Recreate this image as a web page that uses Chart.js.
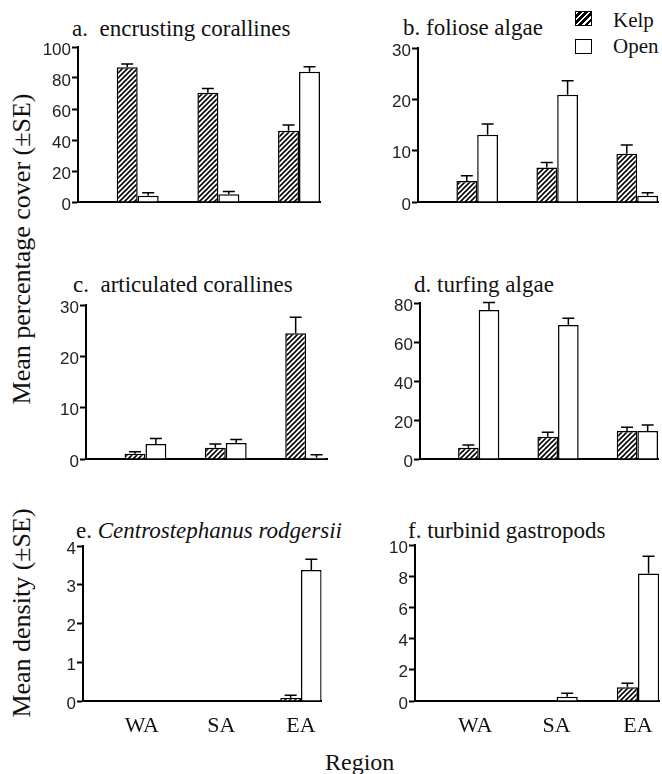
<!DOCTYPE html>
<html>
<head>
<meta charset="utf-8">
<script src="https://cdn.jsdelivr.net/npm/chart.js@4.4.1/dist/chart.umd.min.js"></script>
<style>
  body { margin: 0; background: #fff; }
  #fig { position: relative; width: 662px; height: 774px; overflow: hidden;
         font-family: "Liberation Serif", "Times New Roman", serif; color: #111; }
  #fig canvas { position: absolute; }
  .t { position: absolute; font-size: 23px; line-height: 22px; white-space: pre; }
  .yt { position: absolute; font-size: 26px; line-height: 26px; white-space: nowrap;
        transform: translate(-50%, -50%) rotate(-90deg); }
  .sw { position: absolute; width: 15px; height: 13px; border: 1.5px solid #000; background: #fff; }
  .sw.k { background: repeating-linear-gradient(135deg, #fff 0, #fff 2px, #000 2px, #000 4.3px); }
  .lg { position: absolute; font-size: 21px; line-height: 20px; }
</style>
</head>
<body>
<div id="fig">
  <div class="t" style="left:72px;top:18px">a.  encrusting corallines</div>
  <div class="t" style="left:403px;top:17px">b. foliose algae</div>
  <div class="t" style="left:73px;top:274px">c.  articulated corallines</div>
  <div class="t" style="left:414px;top:274px">d. turfing algae</div>
  <div class="t" style="left:76px;top:520px">e. <i>Centrostephanus rodgersii</i></div>
  <div class="t" style="left:408px;top:520px">f. turbinid gastropods</div>

  <div class="yt" style="left:22px;top:249px">Mean percentage cover (±SE)</div>
  <div class="yt" style="left:22px;top:613px">Mean density (±SE)</div>
  <div class="t" style="left:325px;top:750px;font-size:24px;line-height:24px">Region</div>

  <div class="sw k" style="left:575px;top:11px"></div>
  <div class="lg" style="left:613px;top:10px">Kelp</div>
  <div class="sw" style="left:575px;top:39px"></div>
  <div class="lg" style="left:613px;top:36px">Open</div>
</div>
<script>
const regions = ["WA", "SA", "EA"];

// a. encrusting corallines (% cover)
const encrustingKelp = [87, 70.5, 46];
const encrustingKelpSE = [2, 2.8, 3.7];
const encrustingOpen = [4, 5, 84];
const encrustingOpenSE = [2, 1.7, 3.3];
const encrustingTicks = [0, 20, 40, 60, 80, 100];

// b. foliose algae
const folioseKelp = [4.1, 6.7, 9.4];
const folioseKelpSE = [1.0, 1.0, 1.7];
const folioseOpen = [13.1, 20.9, 1.2];
const folioseOpenSE = [2.1, 2.7, 0.6];
const folioseTicks = [0, 10, 20, 30];

// c. articulated corallines
const articulatedKelp = [1.0, 2.2, 24.5];
const articulatedKelpSE = [0.4, 0.7, 3.1];
const articulatedOpen = [2.9, 3.1, 0.25];
const articulatedOpenSE = [1.1, 0.7, 0.6];
const articulatedTicks = [0, 10, 20, 30];

// d. turfing algae
const turfingKelp = [5.8, 11.4, 14.4];
const turfingKelpSE = [1.4, 2.3, 1.9];
const turfingOpen = [76.4, 68.7, 14.4];
const turfingOpenSE = [3.8, 3.5, 3.0];
const turfingTicks = [0, 20, 40, 60, 80];

// e. Centrostephanus rodgersii (density)
const centroKelp = [0, 0, 0.08];
const centroKelpSE = [0, 0, 0.07];
const centroOpen = [0, 0, 3.38];
const centroOpenSE = [0, 0, 0.28];
const centroTicks = [0, 1, 2, 3, 4];

// f. turbinid gastropods
const turbinidKelp = [0, 0, 0.88];
const turbinidKelpSE = [0, 0, 0.25];
const turbinidOpen = [0, 0.28, 8.18];
const turbinidOpenSE = [0, 0.22, 1.1];
const turbinidTicks = [0, 2, 4, 6, 8, 10];

const fig = document.getElementById("fig");

function hatch() {
  const c = document.createElement("canvas");
  c.width = c.height = 5;
  const g = c.getContext("2d");
  g.fillStyle = "#fff";
  g.fillRect(0, 0, 5, 5);
  g.strokeStyle = "#000";
  g.lineWidth = 1.6;
  g.beginPath();
  g.moveTo(0, 5); g.lineTo(5, 0);
  g.moveTo(-1, 1); g.lineTo(1, -1);
  g.moveTo(4, 6); g.lineTo(6, 4);
  g.stroke();
  return g.createPattern(c, "repeat");
}

// upward-only error bars with a cap
const errorBars = {
  id: "errorBars",
  afterDatasetsDraw(chart) {
    const ctx = chart.ctx;
    const y = chart.scales.y;
    chart.data.datasets.forEach((ds, di) => {
      chart.getDatasetMeta(di).data.forEach((bar, i) => {
        const se = ds.se[i];
        if (!se) return;
        const top = y.getPixelForValue(ds.data[i].y + se);
        ctx.save();
        ctx.strokeStyle = "#000";
        ctx.lineWidth = 1.5;
        ctx.beginPath();
        ctx.moveTo(bar.x, bar.y);
        ctx.lineTo(bar.x, top);
        ctx.moveTo(bar.x - 6, top);
        ctx.lineTo(bar.x + 6, top);
        ctx.stroke();
        ctx.restore();
      });
    });
  }
};

const toPoints = vals => vals.map((v, i) => ({ x: i + 1, y: v }));

function panel(box, kelp, kelpSE, open, openSE, yTicks, showX) {
  const YW = 50, PT = 14, PR = 4, XH = showX ? 44 : 12;
  const cv = document.createElement("canvas");
  cv.width = YW + box.right - box.axis + PR;
  cv.height = PT + box.bottom - box.top + XH;
  cv.style.left = (box.axis - YW) + "px";
  cv.style.top = (box.top - PT) + "px";
  fig.appendChild(cv);

  new Chart(cv, {
    type: "bar",
    data: {
      datasets: [
        { label: "Kelp", data: toPoints(kelp), se: kelpSE, backgroundColor: hatch() },
        { label: "Open", data: toPoints(open), se: openSE, backgroundColor: "#fff" }
      ]
    },
    options: {
      responsive: false,
      animation: false,
      layout: { padding: { top: PT, right: PR, left: 0, bottom: 0 } },
      datasets: {
        bar: {
          borderColor: "#000",
          borderWidth: 1.5,
          barPercentage: 1,
          categoryPercentage: 0.52
        }
      },
      plugins: {
        legend: { display: false },
        tooltip: { enabled: false }
      },
      scales: {
        x: {
          type: "linear",
          min: 0.26,
          max: 3.26,
          offset: false,
          z: 1,
          afterBuildTicks: s => { s.ticks = regions.map((r, i) => ({ value: i + 1 })); },
          afterFit: s => { s.height = XH; },
          border: { display: true, color: "#000", width: 2 },
          grid: { offset: false, drawOnChartArea: false, drawTicks: false },
          ticks: {
            display: showX,
            padding: 12,
            color: "#111",
            callback: (v, i) => regions[i],
            font: { family: "Liberation Serif", size: 22 }
          }
        },
        y: {
          min: 0,
          max: yTicks[yTicks.length - 1],
          afterBuildTicks: s => { s.ticks = yTicks.map(v => ({ value: v })); },
          afterFit: s => { s.width = YW; },
          border: { display: true, color: "#000", width: 2 },
          grid: { drawOnChartArea: false, drawTicks: true, tickLength: 6, tickColor: "#000", tickWidth: 2 },
          ticks: {
            padding: 1,
            labelOffset: 3,
            color: "#222",
            font: { family: "Liberation Sans", size: 17 }
          }
        }
      }
    },
    plugins: [errorBars]
  });
}

panel({ axis: 78, right: 320, top: 47, bottom: 202 },
  encrustingKelp, encrustingKelpSE, encrustingOpen, encrustingOpenSE, encrustingTicks, false);
panel({ axis: 418, right: 658, top: 48, bottom: 202 },
  folioseKelp, folioseKelpSE, folioseOpen, folioseOpenSE, folioseTicks, false);
panel({ axis: 86, right: 327, top: 305, bottom: 459 },
  articulatedKelp, articulatedKelpSE, articulatedOpen, articulatedOpenSE, articulatedTicks, false);
panel({ axis: 420, right: 658, top: 303, bottom: 459 },
  turfingKelp, turfingKelpSE, turfingOpen, turfingOpenSE, turfingTicks, false);
panel({ axis: 83, right: 324, top: 546, bottom: 701 },
  centroKelp, centroKelpSE, centroOpen, centroOpenSE, centroTicks, true);
panel({ axis: 415, right: 661, top: 545, bottom: 701 },
  turbinidKelp, turbinidKelpSE, turbinidOpen, turbinidOpenSE, turbinidTicks, true);
</script>
</body>
</html>
